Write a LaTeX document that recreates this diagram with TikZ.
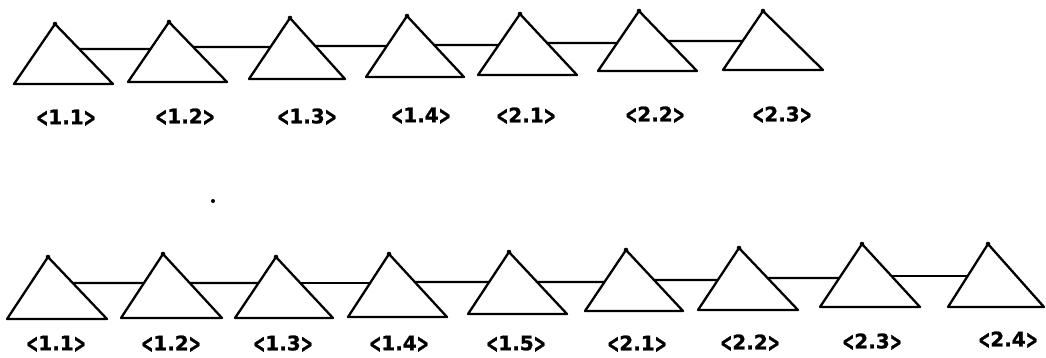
\documentclass[tikz,border=0pt]{standalone}
\usepackage{fontspec}
\newfontfamily\labfont{DejaVu Sans Bold}[FakeBold=1.2]
\usetikzlibrary{calc}
\tikzset{
  tri/.style={draw=black, line width=2.3pt, line join=round},
  link/.style={draw=black, line width=2.3pt},
  lab/.style={font=\labfont\fontsize{20}{20}\selectfont, inner sep=2pt}
}
\newcommand\tri[6]{%
  \coordinate (#1-a) at (#2,#3);
  \coordinate (#1-l) at (#4,#6);
  \coordinate (#1-r) at (#5,#6);
  \expandafter\gdef\csname ay#1\endcsname{#3}%
  \expandafter\gdef\csname by#1\endcsname{#6}%
  \draw[tri] (#1-a) -- (#1-r) -- (#1-l) -- cycle;
  \fill (#1-a) circle (2.3pt);
}
\newcommand\conn[3]{%
  \pgfmathsetmacro\fA{(#3-\csname ay#1\endcsname)/(\csname by#1\endcsname-\csname ay#1\endcsname)}%
  \pgfmathsetmacro\fB{(#3-\csname ay#2\endcsname)/(\csname by#2\endcsname-\csname ay#2\endcsname)}%
  \draw[link] ($(#1-a)!\fA!(#1-r)$) -- ($(#2-a)!\fB!(#2-l)$);
}
\newcommand\ltc{\raisebox{-2.2pt}{\scalebox{0.72}[1.3]{<}}}
\newcommand\gtc{\raisebox{-2.2pt}{\scalebox{0.72}[1.3]{>}}}
\newcommand\lbl[4]{\node[lab] (#1) at (#2,#3) {\ltc#4\gtc};}
\begin{document}
\begin{tikzpicture}[x=1pt,y=-1pt]
\useasboundingbox (0,0) rectangle (1046,357);
% top row
\tri{t1}{55}{24}{14}{113}{84}
\tri{t2}{169}{22}{128}{227}{82}
\tri{t3}{290}{18}{249}{345}{79}
\tri{t4}{407}{16}{366}{464}{77}
\tri{t5}{520}{14}{478}{577}{75}
\tri{t6}{639}{11}{598}{697}{71}
\tri{t7}{763}{11}{723}{823}{70}
\conn{t1}{t2}{49}
\conn{t2}{t3}{47}
\conn{t3}{t4}{46}
\conn{t4}{t5}{45}
\conn{t5}{t6}{43}
\conn{t6}{t7}{41}
\lbl{lt1}{66}{118}{1.1}
\lbl{lt2}{185}{117}{1.2}
\lbl{lt3}{307}{117}{1.3}
\lbl{lt4}{421}{116}{1.4}
\lbl{lt5}{526}{116}{2.1}
\lbl{lt6}{655}{115}{2.2}
\lbl{lt7}{782}{115}{2.3}
% stray dot
\fill (213,201) circle (2pt);
% bottom row
\tri{b1}{48}{257}{7}{107}{319}
\tri{b2}{163}{254}{121}{222}{318}
\tri{b3}{276}{257}{235}{333}{318}
\tri{b4}{389}{254}{348}{447}{317}
\tri{b5}{509}{252}{468}{567}{314}
\tri{b6}{626}{250}{585}{683}{311}
\tri{b7}{739}{248}{698}{798}{310}
\tri{b8}{862}{244}{820}{920}{307}
\tri{b9}{988}{244}{948}{1044}{307}
\conn{b1}{b2}{283}
\conn{b2}{b3}{283}
\conn{b3}{b4}{283}
\conn{b4}{b5}{282}
\conn{b5}{b6}{282}
\conn{b6}{b7}{280}
\conn{b7}{b8}{278}
\conn{b8}{b9}{276}
\lbl{lb1}{56}{344}{1.1}
\lbl{lb2}{171}{344}{1.2}
\lbl{lb3}{283}{344}{1.3}
\lbl{lb4}{399}{344}{1.4}
\lbl{lb5}{516}{344}{1.5}
\lbl{lb6}{637}{344}{2.1}
\lbl{lb7}{750}{343}{2.2}
\lbl{lb8}{872}{342}{2.3}
\lbl{lb9}{1008}{340}{2.4}
\end{tikzpicture}
\end{document}
